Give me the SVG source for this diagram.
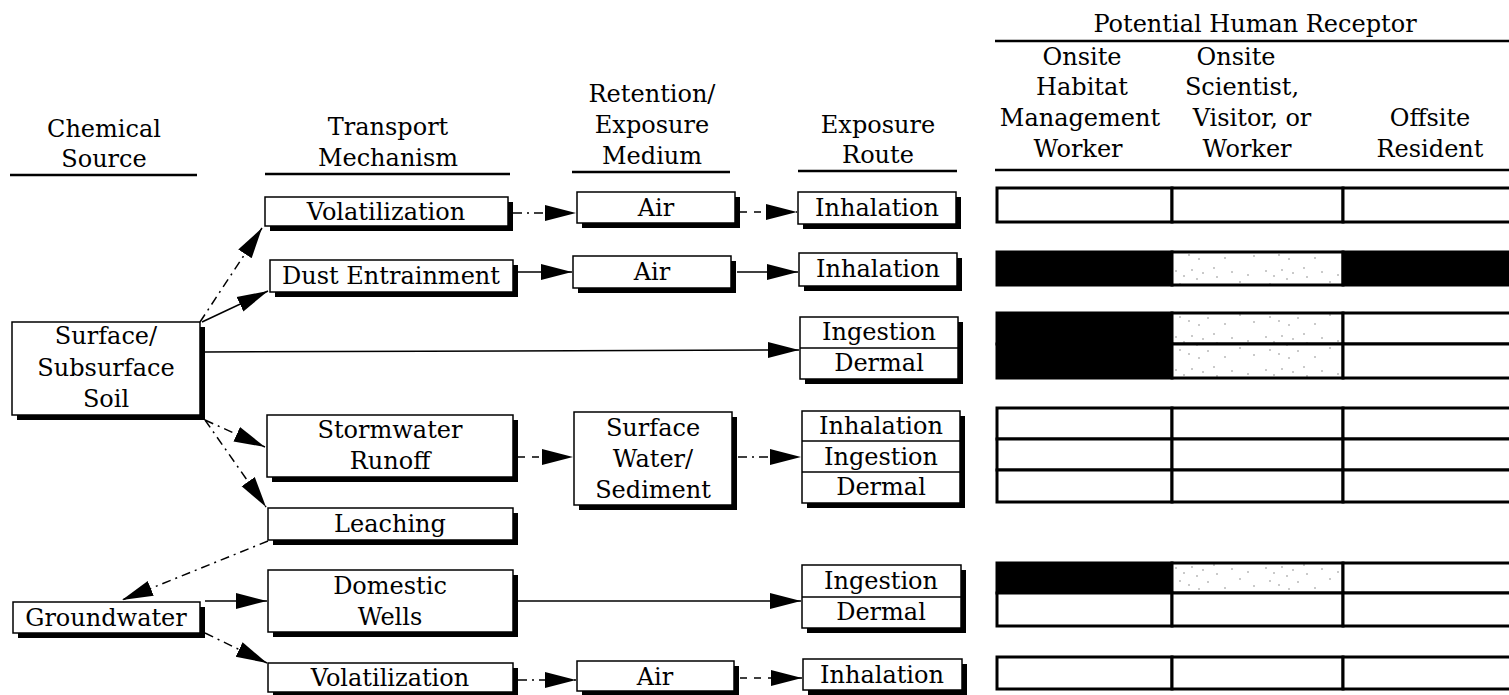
<svg xmlns="http://www.w3.org/2000/svg" width="1509" height="695" viewBox="0 0 1509 695">
<style>
.t{font-family:"DejaVu Serif","Liberation Serif",serif;font-size:24px;text-anchor:middle;fill:#000}
.sh{fill:#000}
.bx{fill:#fff;stroke:#000;stroke-width:1.5}
.dv{stroke:#000;stroke-width:1.5}
.hl{stroke:#000;stroke-width:2.5}
.c{fill:none;stroke:#000;stroke-width:1.5}
.dd{stroke-dasharray:9 5 2 5}
.da{stroke-dasharray:7 7}
.cell{fill:#fff;stroke:#000;stroke-width:3}
.blk{fill:#000;stroke:#000;stroke-width:3}
.spk{fill:url(#speck);stroke:#000;stroke-width:3}
</style>
<defs>
<marker id="ah" markerUnits="userSpaceOnUse" markerWidth="32" markerHeight="18" refX="31" refY="9" orient="auto">
<path d="M0,1 L31,9 L0,17 Z" fill="#000"/>
</marker>
<pattern id="speck" patternUnits="userSpaceOnUse" width="90" height="33">
<rect width="90" height="33" fill="#fff"/>
<g fill="#888">
<circle cx="6" cy="7" r="0.8"/><circle cx="14" cy="12" r="0.8"/><circle cx="22" cy="6" r="0.8"/><circle cx="27" cy="15" r="0.8"/>
<circle cx="10" cy="20" r="0.8"/><circle cx="19" cy="24" r="0.8"/><circle cx="33" cy="9" r="0.8"/><circle cx="38" cy="21" r="0.8"/>
<circle cx="47" cy="13" r="0.8"/><circle cx="55" cy="27" r="0.8"/><circle cx="62" cy="8" r="0.8"/><circle cx="70" cy="18" r="0.8"/>
<circle cx="78" cy="11" r="0.8"/><circle cx="84" cy="25" r="0.8"/><circle cx="29" cy="28" r="0.8"/><circle cx="44" cy="4" r="0.8"/>
</g>
</pattern>
</defs>

<g id="headers">
<text class="t" x="104" y="137">Chemical</text>
<text class="t" x="104" y="167">Source</text>
<line class="hl" x1="10" y1="175" x2="197" y2="175"/>
<text class="t" x="388" y="135">Transport</text>
<text class="t" x="388" y="166">Mechanism</text>
<line class="hl" x1="265" y1="174" x2="510" y2="174"/>
<text class="t" x="652" y="102">Retention/</text>
<text class="t" x="652" y="133">Exposure</text>
<text class="t" x="652" y="164">Medium</text>
<line class="hl" x1="572" y1="172" x2="730" y2="172"/>
<text class="t" x="878" y="133">Exposure</text>
<text class="t" x="878" y="163">Route</text>
<line class="hl" x1="798" y1="171" x2="957" y2="171"/>
<text class="t" x="1255" y="32">Potential Human Receptor</text>
<line class="hl" x1="995" y1="41" x2="1509" y2="41"/>
<text class="t" x="1082" y="65">Onsite</text>
<text class="t" x="1082" y="95">Habitat</text>
<text class="t" x="1080" y="126">Management</text>
<text class="t" x="1078" y="157">Worker</text>
<text class="t" x="1236" y="65">Onsite</text>
<text class="t" x="1242" y="95">Scientist,</text>
<text class="t" x="1252" y="126">Visitor, or</text>
<text class="t" x="1247" y="157">Worker</text>
<text class="t" x="1430" y="126">Offsite</text>
<text class="t" x="1430" y="157">Resident</text>
<line class="hl" x1="995" y1="170" x2="1509" y2="170"/>
</g>

<g id="connectors">
<line class="c dd" x1="200" y1="322" x2="262" y2="228" marker-end="url(#ah)"/>
<line class="c" x1="202" y1="322" x2="268" y2="291" marker-end="url(#ah)"/>
<line class="c" x1="205" y1="352" x2="799" y2="350" marker-end="url(#ah)"/>
<line class="c dd" x1="205" y1="420" x2="265" y2="447" marker-end="url(#ah)"/>
<line class="c dd" x1="205" y1="420" x2="266" y2="507" marker-end="url(#ah)"/>
<line class="c dd" x1="268" y1="541" x2="122" y2="600" marker-end="url(#ah)"/>
<line class="c" x1="205" y1="601" x2="267" y2="601" marker-end="url(#ah)"/>
<line class="c dd" x1="205" y1="633" x2="267" y2="663" marker-end="url(#ah)"/>
<line class="c dd" x1="513" y1="213" x2="576" y2="213" marker-end="url(#ah)"/>
<line class="c da" x1="740" y1="212" x2="797" y2="212" marker-end="url(#ah)"/>
<line class="c" x1="518" y1="272" x2="572" y2="272" marker-end="url(#ah)"/>
<line class="c" x1="737" y1="272" x2="798" y2="272" marker-end="url(#ah)"/>
<line class="c da" x1="518" y1="457" x2="573" y2="457" marker-end="url(#ah)"/>
<line class="c dd" x1="738" y1="457" x2="801" y2="457" marker-end="url(#ah)"/>
<line class="c" x1="518" y1="601" x2="801" y2="601" marker-end="url(#ah)"/>
<line class="c dd" x1="518" y1="680" x2="576" y2="680" marker-end="url(#ah)"/>
<line class="c da" x1="740" y1="678" x2="802" y2="678" marker-end="url(#ah)"/>
</g>

<g id="soil">
<rect class="sh" x="17" y="327" width="188" height="93"/>
<rect class="bx" x="12" y="322" width="188" height="93"/>
<text class="t" x="106" y="344">Surface/</text>
<text class="t" x="106" y="376">Subsurface</text>
<text class="t" x="106" y="407">Soil</text>
</g>
<g id="groundwater">
<rect class="sh" x="18" y="607" width="187" height="31"/>
<rect class="bx" x="13" y="602" width="187" height="31"/>
<text class="t" x="106" y="626">Groundwater</text>
</g>

<g id="volatilization1">
<rect class="sh" x="270" y="202" width="243" height="29"/>
<rect class="bx" x="265" y="197" width="243" height="29"/>
<text class="t" x="386" y="220">Volatilization</text>
</g>
<g id="dust">
<rect class="sh" x="275" y="265" width="243" height="32"/>
<rect class="bx" x="270" y="260" width="243" height="32"/>
<text class="t" x="391" y="284">Dust Entrainment</text>
</g>
<g id="runoff">
<rect class="sh" x="272" y="420" width="246" height="62"/>
<rect class="bx" x="267" y="415" width="246" height="62"/>
<text class="t" x="390" y="438">Stormwater</text>
<text class="t" x="390" y="469">Runoff</text>
</g>
<g id="leaching">
<rect class="sh" x="273" y="513" width="245" height="32"/>
<rect class="bx" x="268" y="508" width="245" height="32"/>
<text class="t" x="390" y="532">Leaching</text>
</g>
<g id="wells">
<rect class="sh" x="273" y="575" width="245" height="62"/>
<rect class="bx" x="268" y="570" width="245" height="62"/>
<text class="t" x="390" y="594">Domestic</text>
<text class="t" x="390" y="625">Wells</text>
</g>
<g id="volatilization2">
<rect class="sh" x="273" y="668" width="245" height="29"/>
<rect class="bx" x="268" y="663" width="245" height="29"/>
<text class="t" x="390" y="686">Volatilization</text>
</g>

<g id="air1">
<rect class="sh" x="582" y="197" width="158" height="31"/>
<rect class="bx" x="577" y="192" width="158" height="31"/>
<text class="t" x="656" y="216">Air</text>
</g>
<g id="air2">
<rect class="sh" x="578" y="261" width="158" height="32"/>
<rect class="bx" x="573" y="256" width="158" height="32"/>
<text class="t" x="652" y="280">Air</text>
</g>
<g id="surfacewater">
<rect class="sh" x="579" y="417" width="158" height="93"/>
<rect class="bx" x="574" y="412" width="158" height="93"/>
<text class="t" x="653" y="436">Surface</text>
<text class="t" x="653" y="467">Water/</text>
<text class="t" x="653" y="498">Sediment</text>
</g>
<g id="air3">
<rect class="sh" x="582" y="666" width="157" height="30"/>
<rect class="bx" x="577" y="661" width="157" height="30"/>
<text class="t" x="655" y="685">Air</text>
</g>

<g id="inhalation1">
<rect class="sh" x="803" y="197" width="158" height="32"/>
<rect class="bx" x="798" y="192" width="158" height="32"/>
<text class="t" x="877" y="216">Inhalation</text>
</g>
<g id="inhalation2">
<rect class="sh" x="804" y="258" width="158" height="33"/>
<rect class="bx" x="799" y="253" width="158" height="33"/>
<text class="t" x="878" y="277">Inhalation</text>
</g>
<g id="ingdermal1">
<rect class="sh" x="805" y="322" width="158" height="62"/>
<rect class="bx" x="800" y="317" width="158" height="62"/>
<line class="dv" x1="800" y1="348" x2="958" y2="348"/>
<text class="t" x="879" y="340">Ingestion</text>
<text class="t" x="879" y="371">Dermal</text>
</g>
<g id="routes3">
<rect class="sh" x="807" y="416" width="158" height="92"/>
<rect class="bx" x="802" y="411" width="158" height="92"/>
<line class="dv" x1="802" y1="441" x2="960" y2="441"/>
<line class="dv" x1="802" y1="472" x2="960" y2="472"/>
<text class="t" x="881" y="434">Inhalation</text>
<text class="t" x="881" y="465">Ingestion</text>
<text class="t" x="881" y="495">Dermal</text>
</g>
<g id="ingdermal2">
<rect class="sh" x="807" y="570" width="159" height="63"/>
<rect class="bx" x="802" y="565" width="159" height="63"/>
<line class="dv" x1="802" y1="597" x2="961" y2="597"/>
<text class="t" x="881" y="589">Ingestion</text>
<text class="t" x="881" y="620">Dermal</text>
</g>
<g id="inhalation3">
<rect class="sh" x="808" y="664" width="159" height="31"/>
<rect class="bx" x="803" y="659" width="159" height="31"/>
<text class="t" x="882" y="683">Inhalation</text>
</g>

<g id="receptor-table">
<g id="row-volatilization1">
<rect class="cell" x="997" y="188" width="175" height="34"/>
<rect class="cell" x="1172" y="188" width="171" height="34"/>
<rect class="cell" x="1343" y="188" width="180" height="34"/>
</g>
<g id="row-dust">
<rect class="blk" x="997" y="252" width="175" height="33"/>
<rect class="spk" x="1172" y="252" width="171" height="33"/>
<rect class="blk" x="1343" y="252" width="180" height="33"/>
</g>
<g id="row-soil-direct">
<rect class="blk" x="997" y="313" width="175" height="31"/>
<rect class="spk" x="1172" y="313" width="171" height="31"/>
<rect class="cell" x="1343" y="313" width="180" height="31"/>
<rect class="blk" x="997" y="344" width="175" height="34"/>
<rect class="spk" x="1172" y="344" width="171" height="34"/>
<rect class="cell" x="1343" y="344" width="180" height="34"/>
</g>
<g id="row-surfacewater">
<rect class="cell" x="997" y="408" width="175" height="31"/>
<rect class="cell" x="1172" y="408" width="171" height="31"/>
<rect class="cell" x="1343" y="408" width="180" height="31"/>
<rect class="cell" x="997" y="439" width="175" height="31"/>
<rect class="cell" x="1172" y="439" width="171" height="31"/>
<rect class="cell" x="1343" y="439" width="180" height="31"/>
<rect class="cell" x="997" y="470" width="175" height="32"/>
<rect class="cell" x="1172" y="470" width="171" height="32"/>
<rect class="cell" x="1343" y="470" width="180" height="32"/>
</g>
<g id="row-wells">
<rect class="blk" x="997" y="563" width="175" height="30"/>
<rect class="spk" x="1172" y="563" width="171" height="30"/>
<rect class="cell" x="1343" y="563" width="180" height="30"/>
<rect class="cell" x="997" y="593" width="175" height="33"/>
<rect class="cell" x="1172" y="593" width="171" height="33"/>
<rect class="cell" x="1343" y="593" width="180" height="33"/>
</g>
<g id="row-volatilization2">
<rect class="cell" x="997" y="657" width="175" height="32"/>
<rect class="cell" x="1172" y="657" width="171" height="32"/>
<rect class="cell" x="1343" y="657" width="180" height="32"/>
</g>
</g>
</svg>
